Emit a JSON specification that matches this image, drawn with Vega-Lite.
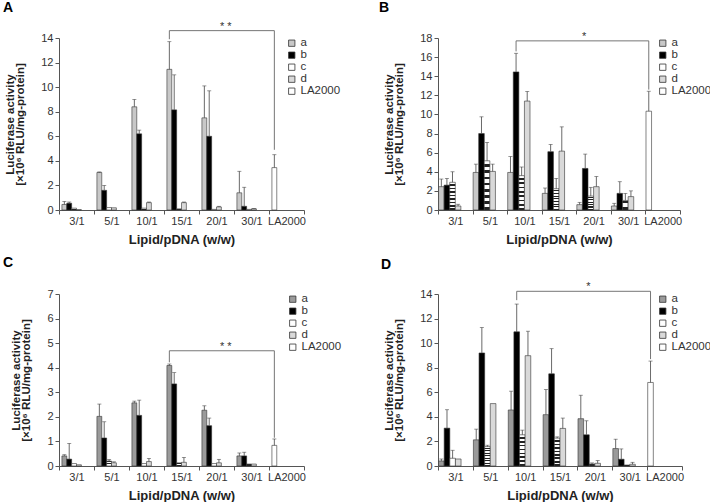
{
  "$schema": "https://vega.github.io/schema/vega-lite/v6.json",
  "padding": {"left": 3, "top": 0, "right": 24, "bottom": 0},
  "background": "white",
  "datasets": {
    "A": [
      {"cat": "3/1", "series": "a", "slot": "a", "v": 0.45, "e": 0.7},
      {"cat": "3/1", "series": "b", "slot": "b", "v": 0.55, "e": 0.65},
      {"cat": "3/1", "series": "c", "slot": "c", "v": 0.15, "e": null},
      {"cat": "3/1", "series": "d", "slot": "d", "v": 0.03, "e": null},
      {"cat": "5/1", "series": "a", "slot": "a", "v": 3.05, "e": 3.1},
      {"cat": "5/1", "series": "b", "slot": "b", "v": 1.6, "e": 2.0},
      {"cat": "5/1", "series": "c", "slot": "c", "v": 0.2, "e": null},
      {"cat": "5/1", "series": "d", "slot": "d", "v": 0.18, "e": null},
      {"cat": "10/1", "series": "a", "slot": "a", "v": 8.4, "e": 9.0},
      {"cat": "10/1", "series": "b", "slot": "b", "v": 6.2, "e": 6.5},
      {"cat": "10/1", "series": "c", "slot": "c", "v": 0.15, "e": null},
      {"cat": "10/1", "series": "d", "slot": "d", "v": 0.6, "e": 0.65},
      {"cat": "15/1", "series": "a", "slot": "a", "v": 11.45, "e": 13.7},
      {"cat": "15/1", "series": "b", "slot": "b", "v": 8.15, "e": 11.0},
      {"cat": "15/1", "series": "c", "slot": "c", "v": 0.1, "e": null},
      {"cat": "15/1", "series": "d", "slot": "d", "v": 0.6, "e": 0.65},
      {"cat": "20/1", "series": "a", "slot": "a", "v": 7.5, "e": 10.1},
      {"cat": "20/1", "series": "b", "slot": "b", "v": 6.0, "e": 9.7},
      {"cat": "20/1", "series": "c", "slot": "c", "v": 0.05, "e": null},
      {"cat": "20/1", "series": "d", "slot": "d", "v": 0.25, "e": 0.3},
      {"cat": "30/1", "series": "a", "slot": "a", "v": 1.4, "e": 3.15},
      {"cat": "30/1", "series": "b", "slot": "b", "v": 0.3, "e": 1.85},
      {"cat": "30/1", "series": "c", "slot": "c", "v": 0.05, "e": null},
      {"cat": "30/1", "series": "d", "slot": "d", "v": 0.1, "e": 0.12},
      {"cat": "LA2000", "series": "LA2000", "slot": "a", "v": 3.45, "e": 4.5}
    ],
    "B": [
      {"cat": "3/1", "series": "a", "slot": "a", "v": 2.44, "e": 3.24},
      {"cat": "3/1", "series": "b", "slot": "b", "v": 2.6, "e": 3.3},
      {"cat": "3/1", "series": "c", "slot": "c", "v": 2.9, "e": 4.0},
      {"cat": "3/1", "series": "d", "slot": "d", "v": 0.42, "e": 0.6},
      {"cat": "5/1", "series": "a", "slot": "a", "v": 3.93, "e": 4.8},
      {"cat": "5/1", "series": "b", "slot": "b", "v": 8.0, "e": 9.75},
      {"cat": "5/1", "series": "c", "slot": "c", "v": 5.15, "e": 7.07},
      {"cat": "5/1", "series": "d", "slot": "d", "v": 4.04, "e": 4.8},
      {"cat": "10/1", "series": "a", "slot": "a", "v": 3.93, "e": 5.6},
      {"cat": "10/1", "series": "b", "slot": "b", "v": 14.45, "e": 16.4},
      {"cat": "10/1", "series": "c", "slot": "c", "v": 3.6, "e": 4.5},
      {"cat": "10/1", "series": "d", "slot": "d", "v": 11.4, "e": 12.4},
      {"cat": "15/1", "series": "a", "slot": "a", "v": 1.74, "e": 2.3},
      {"cat": "15/1", "series": "b", "slot": "b", "v": 6.1, "e": 6.86},
      {"cat": "15/1", "series": "c", "slot": "c", "v": 2.23, "e": 3.3},
      {"cat": "15/1", "series": "d", "slot": "d", "v": 6.16, "e": 8.7},
      {"cat": "20/1", "series": "a", "slot": "a", "v": 0.56, "e": 0.8},
      {"cat": "20/1", "series": "b", "slot": "b", "v": 4.35, "e": 5.85},
      {"cat": "20/1", "series": "c", "slot": "c", "v": 1.46, "e": 2.37},
      {"cat": "20/1", "series": "d", "slot": "d", "v": 2.44, "e": 3.5},
      {"cat": "30/1", "series": "a", "slot": "a", "v": 0.42, "e": 0.7},
      {"cat": "30/1", "series": "b", "slot": "b", "v": 1.74, "e": 2.96},
      {"cat": "30/1", "series": "c", "slot": "c", "v": 1.0, "e": 1.74},
      {"cat": "30/1", "series": "d", "slot": "d", "v": 1.4, "e": 2.0},
      {"cat": "LA2000", "series": "LA2000", "slot": "a", "v": 10.34, "e": 12.43}
    ],
    "C": [
      {"cat": "3/1", "series": "a", "slot": "a", "v": 0.41, "e": 0.46},
      {"cat": "3/1", "series": "b", "slot": "b", "v": 0.28, "e": 0.92},
      {"cat": "3/1", "series": "c", "slot": "c", "v": 0.1, "e": null},
      {"cat": "3/1", "series": "d", "slot": "d", "v": 0.05, "e": null},
      {"cat": "5/1", "series": "a", "slot": "a", "v": 2.02, "e": 2.52},
      {"cat": "5/1", "series": "b", "slot": "b", "v": 1.14, "e": 1.8},
      {"cat": "5/1", "series": "c", "slot": "c", "v": 0.2, "e": 0.26},
      {"cat": "5/1", "series": "d", "slot": "d", "v": 0.13, "e": 0.17},
      {"cat": "10/1", "series": "a", "slot": "a", "v": 2.57, "e": 2.64},
      {"cat": "10/1", "series": "b", "slot": "b", "v": 2.06, "e": 2.68},
      {"cat": "10/1", "series": "c", "slot": "c", "v": 0.1, "e": null},
      {"cat": "10/1", "series": "d", "slot": "d", "v": 0.18, "e": 0.31},
      {"cat": "15/1", "series": "a", "slot": "a", "v": 4.09, "e": 4.15},
      {"cat": "15/1", "series": "b", "slot": "b", "v": 3.34, "e": 3.8},
      {"cat": "15/1", "series": "c", "slot": "c", "v": 0.13, "e": null},
      {"cat": "15/1", "series": "d", "slot": "d", "v": 0.15, "e": 0.35},
      {"cat": "20/1", "series": "a", "slot": "a", "v": 2.27, "e": 2.45},
      {"cat": "20/1", "series": "b", "slot": "b", "v": 1.64, "e": 1.95},
      {"cat": "20/1", "series": "c", "slot": "c", "v": 0.1, "e": null},
      {"cat": "20/1", "series": "d", "slot": "d", "v": 0.13, "e": 0.27},
      {"cat": "30/1", "series": "a", "slot": "a", "v": 0.41, "e": 0.53},
      {"cat": "30/1", "series": "b", "slot": "b", "v": 0.41, "e": 0.56},
      {"cat": "30/1", "series": "c", "slot": "c", "v": 0.08, "e": null},
      {"cat": "30/1", "series": "d", "slot": "d", "v": 0.08, "e": null},
      {"cat": "LA2000", "series": "LA2000", "slot": "a", "v": 0.84, "e": 1.1}
    ],
    "D": [
      {"cat": "3/1", "series": "a", "slot": "a", "v": 0.41, "e": 0.57},
      {"cat": "3/1", "series": "b", "slot": "b", "v": 3.08, "e": 4.58},
      {"cat": "3/1", "series": "c", "slot": "c", "v": 0.63, "e": 1.28},
      {"cat": "3/1", "series": "d", "slot": "d", "v": 0.57, "e": null},
      {"cat": "5/1", "series": "a", "slot": "a", "v": 2.13, "e": 3.0},
      {"cat": "5/1", "series": "b", "slot": "b", "v": 9.2, "e": 11.27},
      {"cat": "5/1", "series": "c", "slot": "c", "v": 1.58, "e": 1.69},
      {"cat": "5/1", "series": "d", "slot": "d", "v": 5.08, "e": null},
      {"cat": "10/1", "series": "a", "slot": "a", "v": 4.56, "e": 6.09},
      {"cat": "10/1", "series": "b", "slot": "b", "v": 10.92, "e": 13.18},
      {"cat": "10/1", "series": "c", "slot": "c", "v": 2.54, "e": 2.92},
      {"cat": "10/1", "series": "d", "slot": "d", "v": 8.98, "e": 10.97},
      {"cat": "15/1", "series": "a", "slot": "a", "v": 4.18, "e": 6.22},
      {"cat": "15/1", "series": "b", "slot": "b", "v": 7.5, "e": 9.55},
      {"cat": "15/1", "series": "c", "slot": "c", "v": 2.27, "e": 2.37},
      {"cat": "15/1", "series": "d", "slot": "d", "v": 3.06, "e": 3.9},
      {"cat": "20/1", "series": "a", "slot": "a", "v": 3.85, "e": 5.76},
      {"cat": "20/1", "series": "b", "slot": "b", "v": 2.54, "e": 3.68},
      {"cat": "20/1", "series": "c", "slot": "c", "v": 0.16, "e": 0.25},
      {"cat": "20/1", "series": "d", "slot": "d", "v": 0.22, "e": 0.44},
      {"cat": "30/1", "series": "a", "slot": "a", "v": 1.42, "e": 2.18},
      {"cat": "30/1", "series": "b", "slot": "b", "v": 0.55, "e": 1.39},
      {"cat": "30/1", "series": "c", "slot": "c", "v": 0.08, "e": null},
      {"cat": "30/1", "series": "d", "slot": "d", "v": 0.14, "e": 0.3},
      {"cat": "LA2000", "series": "LA2000", "slot": "a", "v": 6.8, "e": 8.54}
    ],
    "Abr": [
      {"cat": "15/1", "slot": "a", "y": 13.9, "o": 0},
      {"cat": "15/1", "slot": "a", "y": 14.6, "o": 1},
      {"cat": "LA2000", "slot": "a", "y": 14.6, "o": 2},
      {"cat": "LA2000", "slot": "a", "y": 4.9, "o": 3}
    ],
    "Bbr": [
      {"cat": "10/1", "slot": "b", "y": 16.6, "o": 0},
      {"cat": "10/1", "slot": "b", "y": 17.7, "o": 1},
      {"cat": "LA2000", "slot": "a", "y": 17.7, "o": 2},
      {"cat": "LA2000", "slot": "a", "y": 12.6, "o": 3}
    ],
    "Cbr": [
      {"cat": "15/1", "slot": "a", "y": 4.22, "o": 0},
      {"cat": "15/1", "slot": "a", "y": 4.69, "o": 1},
      {"cat": "LA2000", "slot": "a", "y": 4.69, "o": 2},
      {"cat": "LA2000", "slot": "a", "y": 1.15, "o": 3}
    ],
    "Dbr": [
      {"cat": "10/1", "slot": "b", "y": 13.5, "o": 0},
      {"cat": "10/1", "slot": "b", "y": 14.22, "o": 1},
      {"cat": "LA2000", "slot": "a", "y": 14.22, "o": 2},
      {"cat": "LA2000", "slot": "a", "y": 8.7, "o": 3}
    ],
    "Ast": [{"cat": "20/1", "slot": "e", "y": 14.6, "t": "* *"}],
    "Bst": [{"cat": "20/1", "slot": "b", "y": 17.7, "t": "*"}],
    "Cst": [{"cat": "20/1", "slot": "e", "y": 4.69, "t": "* *"}],
    "Dst": [{"cat": "20/1", "slot": "b", "y": 14.22, "t": "*"}]
  },
  "resolve": {
    "scale": {"x": "independent", "y": "independent", "xOffset": "independent", "fill": "independent"},
    "legend": {"fill": "independent"}
  },
  "columns": 2,
  "spacing": {"row": 10, "column": 37},
  "concat": [
    {
      "title": {"text": "A", "anchor": "start", "frame": "group", "dx": -56, "fontSize": 14, "fontWeight": "bold", "offset": 6},
      "width": 245, "height": 172,
      "layer": [
        {
          "data": {"name": "A"},
          "mark": {"type": "bar", "stroke": "#333", "strokeWidth": 0.6},
          "encoding": {
            "x": {"field": "cat", "type": "nominal", "scale": {"domain": ["3/1", "5/1", "10/1", "15/1", "20/1", "30/1", "LA2000"], "paddingInner": 0, "paddingOuter": 0}, "title": "Lipid/pDNA (w/w)"},
            "xOffset": {"field": "slot", "type": "nominal", "scale": {"domain": ["a", "b", "c", "d", "e", "f"], "paddingInner": 0, "paddingOuter": 0.6}},
            "y": {"field": "v", "type": "quantitative", "scale": {"domain": [0, 14], "nice": false}, "axis": {"values": [0, 2, 4, 6, 8, 10, 12, 14], "tickCount": 20, "format": "d"}, "title": ["Luciferase activity", "[×10⁶ RLU/mg-protein]"]},
            "fill": {
              "field": "series", "type": "nominal",
              "scale": {"domain": ["a", "b", "c", "d", "LA2000"], "range": ["#c8c8c8", "#000000", "#ffffff", "#d9d9d9", "#ffffff"]},
              "legend": {"orient": "none", "legendX": 227, "legendY": 0},
              "condition": {"test": "datum.series === 'c'", "value": {"gradient": "linear", "x1": 0, "y1": 0, "x2": 0, "y2": 1, "stops": [
                {"offset": 0, "color": "#fff"}, {"offset": 0.07, "color": "#fff"}, {"offset": 0.07, "color": "#222"}, {"offset": 0.125, "color": "#222"},
                {"offset": 0.125, "color": "#fff"}, {"offset": 0.195, "color": "#fff"}, {"offset": 0.195, "color": "#222"}, {"offset": 0.25, "color": "#222"},
                {"offset": 0.25, "color": "#fff"}, {"offset": 0.32, "color": "#fff"}, {"offset": 0.32, "color": "#222"}, {"offset": 0.375, "color": "#222"},
                {"offset": 0.375, "color": "#fff"}, {"offset": 0.445, "color": "#fff"}, {"offset": 0.445, "color": "#222"}, {"offset": 0.5, "color": "#222"},
                {"offset": 0.5, "color": "#fff"}, {"offset": 0.57, "color": "#fff"}, {"offset": 0.57, "color": "#222"}, {"offset": 0.625, "color": "#222"},
                {"offset": 0.625, "color": "#fff"}, {"offset": 0.695, "color": "#fff"}, {"offset": 0.695, "color": "#222"}, {"offset": 0.75, "color": "#222"},
                {"offset": 0.75, "color": "#fff"}, {"offset": 0.82, "color": "#fff"}, {"offset": 0.82, "color": "#222"}, {"offset": 0.875, "color": "#222"},
                {"offset": 0.875, "color": "#fff"}, {"offset": 0.945, "color": "#fff"}, {"offset": 0.945, "color": "#222"}, {"offset": 1, "color": "#222"}
              ]}}
            }
          }
        },
        {
          "data": {"name": "A"},
          "transform": [{"filter": "datum.e != null"}],
          "mark": {"type": "rule", "color": "#444", "strokeWidth": 0.8},
          "encoding": {
            "x": {"field": "cat", "type": "nominal"},
            "xOffset": {"field": "slot", "type": "nominal"},
            "y": {"field": "v", "type": "quantitative"},
            "y2": {"field": "e"}
          }
        },
        {
          "data": {"name": "A"},
          "transform": [{"filter": "datum.e != null"}],
          "mark": {"type": "tick", "orient": "horizontal", "size": 4, "thickness": 0.8, "color": "#444"},
          "encoding": {
            "x": {"field": "cat", "type": "nominal"},
            "xOffset": {"field": "slot", "type": "nominal"},
            "y": {"field": "e", "type": "quantitative"}
          }
        },
        {
          "data": {"name": "Abr"},
          "mark": {"type": "line", "color": "#666", "strokeWidth": 0.9},
          "encoding": {
            "x": {"field": "cat", "type": "nominal"},
            "xOffset": {"field": "slot", "type": "nominal"},
            "y": {"field": "y", "type": "quantitative"},
            "order": {"field": "o", "type": "quantitative"}
          }
        },
        {
          "data": {"name": "Ast"},
          "mark": {"type": "text", "baseline": "middle", "dy": -4, "dx": 2, "fontSize": 11, "color": "#333"},
          "encoding": {
            "x": {"field": "cat", "type": "nominal"},
            "xOffset": {"field": "slot", "type": "nominal"},
            "y": {"field": "y", "type": "quantitative"},
            "text": {"field": "t"}
          }
        }
      ]
    },
    {
      "title": {"text": "B", "anchor": "start", "frame": "group", "dx": -59, "fontSize": 14, "fontWeight": "bold", "offset": 16},
      "width": 242, "height": 172,
      "layer": [
        {
          "data": {"name": "B"},
          "mark": {"type": "bar", "stroke": "#333", "strokeWidth": 0.6},
          "encoding": {
            "x": {"field": "cat", "type": "nominal", "scale": {"domain": ["3/1", "5/1", "10/1", "15/1", "20/1", "30/1", "LA2000"], "paddingInner": 0, "paddingOuter": 0}, "title": "Lipid/pDNA (w/w)"},
            "xOffset": {"field": "slot", "type": "nominal", "scale": {"domain": ["a", "b", "c", "d", "e", "f"], "paddingInner": 0, "paddingOuter": 0.1}},
            "y": {"field": "v", "type": "quantitative", "scale": {"domain": [0, 18], "nice": false}, "axis": {"values": [0, 2, 4, 6, 8, 10, 12, 14, 16, 18], "tickCount": 20, "format": "d"}, "title": ["Luciferase activity", "[×10⁶ RLU/mg-protein]"]},
            "fill": {
              "field": "series", "type": "nominal",
              "scale": {"domain": ["a", "b", "c", "d", "LA2000"], "range": ["#c8c8c8", "#000000", "#ffffff", "#d9d9d9", "#ffffff"]},
              "legend": {"orient": "none", "legendX": 219, "legendY": 0},
              "condition": {"test": "datum.series === 'c'", "value": {"gradient": "linear", "x1": 0, "y1": 0, "x2": 0, "y2": 1, "stops": [
                {"offset": 0, "color": "#fff"}, {"offset": 0.07, "color": "#fff"}, {"offset": 0.07, "color": "#222"}, {"offset": 0.125, "color": "#222"},
                {"offset": 0.125, "color": "#fff"}, {"offset": 0.195, "color": "#fff"}, {"offset": 0.195, "color": "#222"}, {"offset": 0.25, "color": "#222"},
                {"offset": 0.25, "color": "#fff"}, {"offset": 0.32, "color": "#fff"}, {"offset": 0.32, "color": "#222"}, {"offset": 0.375, "color": "#222"},
                {"offset": 0.375, "color": "#fff"}, {"offset": 0.445, "color": "#fff"}, {"offset": 0.445, "color": "#222"}, {"offset": 0.5, "color": "#222"},
                {"offset": 0.5, "color": "#fff"}, {"offset": 0.57, "color": "#fff"}, {"offset": 0.57, "color": "#222"}, {"offset": 0.625, "color": "#222"},
                {"offset": 0.625, "color": "#fff"}, {"offset": 0.695, "color": "#fff"}, {"offset": 0.695, "color": "#222"}, {"offset": 0.75, "color": "#222"},
                {"offset": 0.75, "color": "#fff"}, {"offset": 0.82, "color": "#fff"}, {"offset": 0.82, "color": "#222"}, {"offset": 0.875, "color": "#222"},
                {"offset": 0.875, "color": "#fff"}, {"offset": 0.945, "color": "#fff"}, {"offset": 0.945, "color": "#222"}, {"offset": 1, "color": "#222"}
              ]}}
            }
          }
        },
        {
          "data": {"name": "B"},
          "transform": [{"filter": "datum.e != null"}],
          "mark": {"type": "rule", "color": "#444", "strokeWidth": 0.8},
          "encoding": {
            "x": {"field": "cat", "type": "nominal"},
            "xOffset": {"field": "slot", "type": "nominal"},
            "y": {"field": "v", "type": "quantitative"},
            "y2": {"field": "e"}
          }
        },
        {
          "data": {"name": "B"},
          "transform": [{"filter": "datum.e != null"}],
          "mark": {"type": "tick", "orient": "horizontal", "size": 4, "thickness": 0.8, "color": "#444"},
          "encoding": {
            "x": {"field": "cat", "type": "nominal"},
            "xOffset": {"field": "slot", "type": "nominal"},
            "y": {"field": "e", "type": "quantitative"}
          }
        },
        {
          "data": {"name": "Bbr"},
          "mark": {"type": "line", "color": "#666", "strokeWidth": 0.9},
          "encoding": {
            "x": {"field": "cat", "type": "nominal"},
            "xOffset": {"field": "slot", "type": "nominal"},
            "y": {"field": "y", "type": "quantitative"},
            "order": {"field": "o", "type": "quantitative"}
          }
        },
        {
          "data": {"name": "Bst"},
          "mark": {"type": "text", "baseline": "middle", "dy": -4, "dx": -1, "fontSize": 11, "color": "#333"},
          "encoding": {
            "x": {"field": "cat", "type": "nominal"},
            "xOffset": {"field": "slot", "type": "nominal"},
            "y": {"field": "y", "type": "quantitative"},
            "text": {"field": "t"}
          }
        }
      ]
    },
    {
      "title": {"text": "C", "anchor": "start", "frame": "group", "dx": -56, "fontSize": 14, "fontWeight": "bold", "offset": 18},
      "width": 245, "height": 172,
      "layer": [
        {
          "data": {"name": "C"},
          "mark": {"type": "bar", "stroke": "#333", "strokeWidth": 0.6},
          "encoding": {
            "x": {"field": "cat", "type": "nominal", "scale": {"domain": ["3/1", "5/1", "10/1", "15/1", "20/1", "30/1", "LA2000"], "paddingInner": 0, "paddingOuter": 0}, "title": "Lipid/pDNA (w/w)"},
            "xOffset": {"field": "slot", "type": "nominal", "scale": {"domain": ["a", "b", "c", "d", "e", "f"], "paddingInner": 0, "paddingOuter": 0.6}},
            "y": {"field": "v", "type": "quantitative", "scale": {"domain": [0, 7], "nice": false}, "axis": {"values": [0, 1, 2, 3, 4, 5, 6, 7], "tickCount": 20, "format": "d"}, "title": ["Luciferase activity", "[×10⁶ RLU/mg-protein]"]},
            "fill": {
              "field": "series", "type": "nominal",
              "scale": {"domain": ["a", "b", "c", "d", "LA2000"], "range": ["#9a9a9a", "#000000", "#ffffff", "#d9d9d9", "#ffffff"]},
              "legend": {"orient": "none", "legendX": 228, "legendY": 0},
              "condition": {"test": "datum.series === 'c'", "value": {"gradient": "linear", "x1": 0, "y1": 0, "x2": 0, "y2": 1, "stops": [
                {"offset": 0, "color": "#fff"}, {"offset": 0.07, "color": "#fff"}, {"offset": 0.07, "color": "#222"}, {"offset": 0.125, "color": "#222"},
                {"offset": 0.125, "color": "#fff"}, {"offset": 0.195, "color": "#fff"}, {"offset": 0.195, "color": "#222"}, {"offset": 0.25, "color": "#222"},
                {"offset": 0.25, "color": "#fff"}, {"offset": 0.32, "color": "#fff"}, {"offset": 0.32, "color": "#222"}, {"offset": 0.375, "color": "#222"},
                {"offset": 0.375, "color": "#fff"}, {"offset": 0.445, "color": "#fff"}, {"offset": 0.445, "color": "#222"}, {"offset": 0.5, "color": "#222"},
                {"offset": 0.5, "color": "#fff"}, {"offset": 0.57, "color": "#fff"}, {"offset": 0.57, "color": "#222"}, {"offset": 0.625, "color": "#222"},
                {"offset": 0.625, "color": "#fff"}, {"offset": 0.695, "color": "#fff"}, {"offset": 0.695, "color": "#222"}, {"offset": 0.75, "color": "#222"},
                {"offset": 0.75, "color": "#fff"}, {"offset": 0.82, "color": "#fff"}, {"offset": 0.82, "color": "#222"}, {"offset": 0.875, "color": "#222"},
                {"offset": 0.875, "color": "#fff"}, {"offset": 0.945, "color": "#fff"}, {"offset": 0.945, "color": "#222"}, {"offset": 1, "color": "#222"}
              ]}}
            }
          }
        },
        {
          "data": {"name": "C"},
          "transform": [{"filter": "datum.e != null"}],
          "mark": {"type": "rule", "color": "#444", "strokeWidth": 0.8},
          "encoding": {
            "x": {"field": "cat", "type": "nominal"},
            "xOffset": {"field": "slot", "type": "nominal"},
            "y": {"field": "v", "type": "quantitative"},
            "y2": {"field": "e"}
          }
        },
        {
          "data": {"name": "C"},
          "transform": [{"filter": "datum.e != null"}],
          "mark": {"type": "tick", "orient": "horizontal", "size": 4, "thickness": 0.8, "color": "#444"},
          "encoding": {
            "x": {"field": "cat", "type": "nominal"},
            "xOffset": {"field": "slot", "type": "nominal"},
            "y": {"field": "e", "type": "quantitative"}
          }
        },
        {
          "data": {"name": "Cbr"},
          "mark": {"type": "line", "color": "#666", "strokeWidth": 0.9},
          "encoding": {
            "x": {"field": "cat", "type": "nominal"},
            "xOffset": {"field": "slot", "type": "nominal"},
            "y": {"field": "y", "type": "quantitative"},
            "order": {"field": "o", "type": "quantitative"}
          }
        },
        {
          "data": {"name": "Cst"},
          "mark": {"type": "text", "baseline": "middle", "dy": -4, "dx": 2, "fontSize": 11, "color": "#333"},
          "encoding": {
            "x": {"field": "cat", "type": "nominal"},
            "xOffset": {"field": "slot", "type": "nominal"},
            "y": {"field": "y", "type": "quantitative"},
            "text": {"field": "t"}
          }
        }
      ]
    },
    {
      "title": {"text": "D", "anchor": "start", "frame": "group", "dx": -57, "fontSize": 14, "fontWeight": "bold", "offset": 9},
      "width": 244, "height": 172,
      "layer": [
        {
          "data": {"name": "D"},
          "mark": {"type": "bar", "stroke": "#333", "strokeWidth": 0.6},
          "encoding": {
            "x": {"field": "cat", "type": "nominal", "scale": {"domain": ["3/1", "5/1", "10/1", "15/1", "20/1", "30/1", "LA2000"], "paddingInner": 0, "paddingOuter": 0}, "title": "Lipid/pDNA (w/w)"},
            "xOffset": {"field": "slot", "type": "nominal", "scale": {"domain": ["a", "b", "c", "d", "e", "f"], "paddingInner": 0, "paddingOuter": 0.1}},
            "y": {"field": "v", "type": "quantitative", "scale": {"domain": [0, 14], "nice": false}, "axis": {"values": [0, 2, 4, 6, 8, 10, 12, 14], "tickCount": 20, "format": "d"}, "title": ["Luciferase activity", "[×10⁶ RLU/mg-protein]"]},
            "fill": {
              "field": "series", "type": "nominal",
              "scale": {"domain": ["a", "b", "c", "d", "LA2000"], "range": ["#9a9a9a", "#000000", "#ffffff", "#d9d9d9", "#ffffff"]},
              "legend": {"orient": "none", "legendX": 219, "legendY": 0},
              "condition": {"test": "datum.series === 'c'", "value": {"gradient": "linear", "x1": 0, "y1": 0, "x2": 0, "y2": 1, "stops": [
                {"offset": 0, "color": "#fff"}, {"offset": 0.07, "color": "#fff"}, {"offset": 0.07, "color": "#222"}, {"offset": 0.125, "color": "#222"},
                {"offset": 0.125, "color": "#fff"}, {"offset": 0.195, "color": "#fff"}, {"offset": 0.195, "color": "#222"}, {"offset": 0.25, "color": "#222"},
                {"offset": 0.25, "color": "#fff"}, {"offset": 0.32, "color": "#fff"}, {"offset": 0.32, "color": "#222"}, {"offset": 0.375, "color": "#222"},
                {"offset": 0.375, "color": "#fff"}, {"offset": 0.445, "color": "#fff"}, {"offset": 0.445, "color": "#222"}, {"offset": 0.5, "color": "#222"},
                {"offset": 0.5, "color": "#fff"}, {"offset": 0.57, "color": "#fff"}, {"offset": 0.57, "color": "#222"}, {"offset": 0.625, "color": "#222"},
                {"offset": 0.625, "color": "#fff"}, {"offset": 0.695, "color": "#fff"}, {"offset": 0.695, "color": "#222"}, {"offset": 0.75, "color": "#222"},
                {"offset": 0.75, "color": "#fff"}, {"offset": 0.82, "color": "#fff"}, {"offset": 0.82, "color": "#222"}, {"offset": 0.875, "color": "#222"},
                {"offset": 0.875, "color": "#fff"}, {"offset": 0.945, "color": "#fff"}, {"offset": 0.945, "color": "#222"}, {"offset": 1, "color": "#222"}
              ]}}
            }
          }
        },
        {
          "data": {"name": "D"},
          "transform": [{"filter": "datum.e != null"}],
          "mark": {"type": "rule", "color": "#444", "strokeWidth": 0.8},
          "encoding": {
            "x": {"field": "cat", "type": "nominal"},
            "xOffset": {"field": "slot", "type": "nominal"},
            "y": {"field": "v", "type": "quantitative"},
            "y2": {"field": "e"}
          }
        },
        {
          "data": {"name": "D"},
          "transform": [{"filter": "datum.e != null"}],
          "mark": {"type": "tick", "orient": "horizontal", "size": 4, "thickness": 0.8, "color": "#444"},
          "encoding": {
            "x": {"field": "cat", "type": "nominal"},
            "xOffset": {"field": "slot", "type": "nominal"},
            "y": {"field": "e", "type": "quantitative"}
          }
        },
        {
          "data": {"name": "Dbr"},
          "mark": {"type": "line", "color": "#666", "strokeWidth": 0.9},
          "encoding": {
            "x": {"field": "cat", "type": "nominal"},
            "xOffset": {"field": "slot", "type": "nominal"},
            "y": {"field": "y", "type": "quantitative"},
            "order": {"field": "o", "type": "quantitative"}
          }
        },
        {
          "data": {"name": "Dst"},
          "mark": {"type": "text", "baseline": "middle", "dy": -4, "dx": 2, "fontSize": 11, "color": "#333"},
          "encoding": {
            "x": {"field": "cat", "type": "nominal"},
            "xOffset": {"field": "slot", "type": "nominal"},
            "y": {"field": "y", "type": "quantitative"},
            "text": {"field": "t"}
          }
        }
      ]
    }
  ],
  "config": {
    "font": "Liberation Sans",
    "view": {"stroke": null},
    "axis": {"domainColor": "#555", "tickColor": "#555", "labelColor": "#333", "labelFontSize": 11, "titleFontSize": 11.5, "titleFontWeight": "bold", "titleColor": "#222", "grid": false, "tickSize": 4, "labelPadding": 2, "labelOverlap": false},
    "axisX": {"labelAngle": 0, "tickBand": "extent", "titlePadding": 7, "labelFlush": false, "labelPadding": 1, "titleFontSize": 13},
    "axisY": {"titlePadding": 15, "titleLineHeight": 10},
    "legend": {"title": null, "symbolType": "square", "symbolSize": 40, "symbolStrokeColor": "#333", "symbolStrokeWidth": 0.8, "labelFontSize": 11.5, "labelColor": "#333", "rowPadding": 0, "clipHeight": 10.4, "labelOffset": 3},
    "title": {"color": "#000"}
  }
}
